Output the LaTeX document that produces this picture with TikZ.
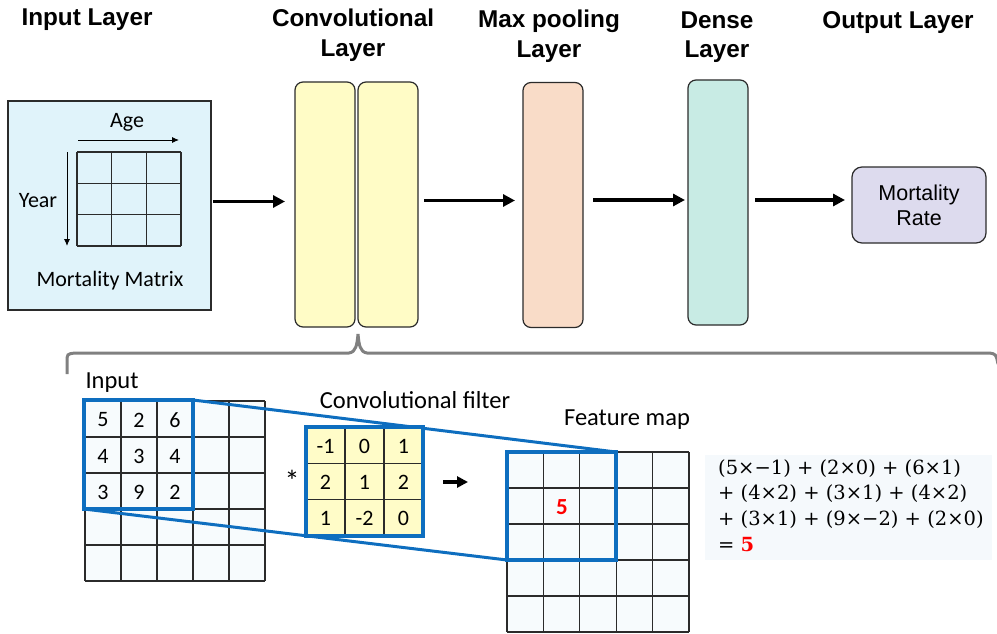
\documentclass[tikz,border=0pt]{standalone}
\usepackage{fontspec}
\setmainfont{Liberation Sans}
\newfontfamily\calfont{Carlito}
\newfontfamily\eqfont{DejaVu Serif}
\usetikzlibrary{arrows.meta,calc}

\definecolor{inblue}{HTML}{E0F3FA}
\definecolor{convyel}{HTML}{FFFCC6}
\definecolor{poolpeach}{HTML}{F9DCC8}
\definecolor{densegreen}{HTML}{C8EBE4}
\definecolor{ratelav}{HTML}{DDDBEE}
\definecolor{cellbg}{HTML}{F7FBFD}
\definecolor{filtyel}{HTML}{FFFCC8}
\definecolor{hlblue}{HTML}{0E6EBF}
\definecolor{bracegray}{HTML}{808080}
\definecolor{eqbg}{HTML}{F5F9FC}
\definecolor{edge}{HTML}{2B2B2B}

\begin{document}
\begin{tikzpicture}[x=1pt,y=-1pt,
  head/.style={font=\fontsize{24.3}{29.5}\selectfont\bfseries, align=center, inner sep=0},
  layerbox/.style={draw=edge, line width=1.2pt, rounded corners=8pt,
                   minimum width=60pt, minimum height=245pt, inner sep=0, outer sep=0},
  flow/.style={-{Triangle[length=12pt,width=12pt]}, line width=3.6pt},
  lbl/.style={font=\calfont\fontsize{22}{26}\selectfont, inner sep=0},
  biglbl/.style={font=\calfont\fontsize{24.5}{28}\selectfont, inner sep=0},
  num/.style={font=\calfont\fontsize{22}{24}\selectfont, inner sep=0},
  hl/.style={draw=hlblue, line width=3.2pt, inner sep=0, outer sep=0},
  joinline/.style={hlblue, line width=3pt},
  gridline/.style={draw=edge, line width=1.2pt},
  thin/.style={-{Latex[length=7pt,width=6pt]}, line width=0.9pt}
]
\useasboundingbox (0,0) rectangle (997,634);

% ---------- headings ----------
\node[head] (h1) at (87,20) {Input Layer};
\node[head] (h2) at (353,35) {Convolutional\\Layer};
\node[head] (h3) at (549,36) {Max pooling\\Layer};
\node[head] (h4) at (717,37) {Dense\\Layer};
\node[head] (h5) at (898,23) {Output Layer};

% ---------- input layer ----------
\node[draw=edge, line width=1.2pt, fill=inblue, minimum width=203pt,
      minimum height=209pt, inner sep=0, outer sep=0] (inbox) at (109.5,205.5) {};
\foreach \i in {0,...,3} {
  \draw[gridline] (77+\i*34.667,152) -- (77+\i*34.667,246);
  \draw[gridline] (77,152+\i*31.333) -- (181,152+\i*31.333);
}
\coordinate (agea) at (78,140);
\coordinate (ageb) at (179,140);
\draw[thin] (agea) -- (ageb);
\node[lbl] (age) at (127,122) {Age};
\coordinate (yra) at (67,152);
\coordinate (yrb) at (67,246);
\draw[thin] (yra) -- (yrb);
\node[lbl] (year) at (38,201) {Year};
\node[lbl] (mm) at (110,281) {Mortality Matrix};

% ---------- layer blocks ----------
\node[layerbox, fill=convyel] (conv1) at (325,204.5) {};
\node[layerbox, fill=convyel] (conv2) at (388,204.5) {};
\node[layerbox, fill=poolpeach] (pool) at (553,205) {};
\node[layerbox, fill=densegreen] (dense) at (718,202.5) {};
\node[draw=edge, line width=1.2pt, rounded corners=10pt, fill=ratelav,
      minimum width=134pt, minimum height=76pt, inner sep=0, outer sep=0,
      align=center, font=\fontsize{21.5}{25}\selectfont] (rate) at (919,205) {Mortality\\Rate};

\draw[flow] ([xshift=2pt,yshift=4pt]inbox.east) -- ([xshift=-10pt,yshift=3pt]conv1.west);
\draw[flow] ([xshift=6pt,yshift=4pt]conv2.east) -- ([xshift=-8pt,yshift=4.5pt]pool.west);
\draw[flow] ([xshift=10pt,yshift=5pt]pool.east) -- ([xshift=-3pt,yshift=2.5pt]dense.west);
\draw[flow] ([xshift=7pt,yshift=2.5pt]dense.east) -- ([xshift=-7pt,yshift=5pt]rate.west);

% ---------- brace under the convolutional layer ----------
\draw[bracegray, line width=3pt]
  (67,374) -- (67,362) .. controls (67,354) .. (75,353) -- (349,353)
  .. controls (356,352) and (357,345) .. (358,334)
  .. controls (359,345) and (360,352) .. (367,353) -- (989,353)
  .. controls (996,354) .. (998,364);

% ---------- detail: input matrix ----------
\node[biglbl] (inlbl) at (112,383) {Input};
\fill[cellbg] (85,401) rectangle (265,581);
\foreach \i in {0,...,5} {
  \draw[gridline] (85+\i*36,401) -- (85+\i*36,581);
  \draw[gridline] (85,401+\i*36) -- (265,401+\i*36);
}
\foreach \v [count=\k from 0] in {5,2,6,4,3,4,3,9,2} {
  \pgfmathtruncatemacro{\c}{mod(\k,3)}
  \pgfmathtruncatemacro{\r}{div(\k,3)}
  \node[num] (in\k) at (103+\c*36,420+\r*36) {\v};
}

% ---------- detail: feature map ----------
\node[biglbl] (fmlbl) at (627,420) {Feature map};
\fill[cellbg] (507,452) rectangle (689,632);
\foreach \i in {0,...,5} {
  \draw[gridline] (507+\i*36.4,452) -- (507+\i*36.4,632);
  \draw[gridline] (507,452+\i*36) -- (689,452+\i*36);
}
\node[font=\calfont\fontsize{23}{24}\selectfont\bfseries, text=red, inner sep=0] (res) at (562,507) {5};

% highlighted windows and the lines joining them
\node[hl, minimum width=109pt, minimum height=109pt] (hlin) at (138.5,454.5) {};
\node[hl, minimum width=109pt, minimum height=108pt] (hlfm) at (561.5,506) {};
\draw[joinline] (hlin.north east) -- (hlfm.north east);
\draw[joinline] (hlin.south west) -- (hlfm.south west);

% ---------- detail: filter ----------
\node[biglbl] (filtlbl) at (415,400) {Convolutional filter};
\fill[filtyel] (306,427) rectangle (423,536);
\foreach \i in {1,2} {
  \draw[gridline] (306+\i*39,427) -- (306+\i*39,536);
  \draw[gridline] (306,427+\i*36.333) -- (423,427+\i*36.333);
}
\foreach \v [count=\k from 0] in {-1,0,1,2,1,2,1,-2,0} {
  \pgfmathtruncatemacro{\c}{mod(\k,3)}
  \pgfmathtruncatemacro{\r}{div(\k,3)}
  \node[num] (f\k) at (325.5+\c*39,446+\r*36.333) {\v};
}
\node[hl, minimum width=117pt, minimum height=109pt] (filt) at (364.5,481.5) {};
\node[font=\calfont\fontsize{30}{32}\selectfont, inner sep=0] (star) at (292,481) {*};
\coordinate (sa) at (443,482);
\coordinate (sb) at (468,482);
\draw[-{Triangle[length=11pt,width=11pt]}, line width=3.3pt] (sa) -- (sb);

% ---------- worked sum ----------
\fill[eqbg] (705,455) rectangle (992,560);
\node[anchor=north west, inner sep=0, align=left,
      font=\eqfont\fontsize{19.5}{25.7}\selectfont] (eq) at (718,459)
  {(5×−1) + (2×0) + (6×1)\\
   + (4×2) + (3×1) + (4×2)\\
   + (3×1) + (9×−2) + (2×0)\\
   = {\bfseries\color{red}5}};
\end{tikzpicture}
\end{document}
